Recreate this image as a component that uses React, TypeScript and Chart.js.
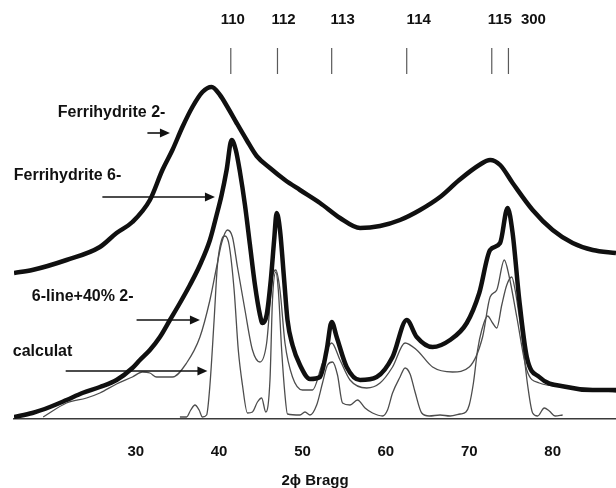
import { useEffect, useRef } from "react";
import { Chart, registerables } from "chart.js";

Chart.register(...registerables);

// ---- axis / annotation data ----
const X_MIN = 15.4;
const X_MAX = 87.6;
const Y_MAX = 419;
const X_TICKS = [30, 40, 50, 60, 70, 80];
const AXIS_TITLE = "2\u03D5 Bragg";

const PEAK_LABELS = ["110", "112", "113", "114", "115", "300"];
const PEAK_POS = [41.4, 47.0, 53.5, 62.5, 72.7, 74.7];

const SERIES_LABELS = ["Ferrihydrite 2-", "Ferrihydrite 6-", "6-line+40% 2-", "calculat"];

// ---- series (2θ, intensity a.u.) ----
const fh2Line: [number, number][] = [
  [15.4, 146], [17.6, 149], [21.7, 159], [25.7, 172], [27.7, 186], [29.6, 197],
  [31.7, 219], [33.2, 249], [34.4, 269], [35.6, 292], [36.8, 312], [38.0, 327],
  [39.1, 332], [40.1, 324], [41.0, 312], [42.1, 296], [43.3, 279], [44.5, 263],
  [46.1, 251], [47.9, 239], [49.7, 229], [52.1, 216], [54.5, 201], [56.9, 191],
  [59.3, 193], [61.7, 199], [64.1, 209], [66.5, 222], [68.8, 239], [71.2, 254],
  [72.5, 259], [73.7, 254], [75.2, 236], [77.6, 209], [80.0, 189], [82.4, 176],
  [84.8, 169], [87.6, 166],
];

const fh6Line: [number, number][] = [
  [15.4, 2], [17.6, 6], [19.7, 12], [21.7, 19], [23.6, 26], [25.7, 32], [27.7, 39],
  [29.6, 51], [30.5, 59], [31.7, 69], [32.9, 82], [34.1, 99], [35.3, 116],
  [36.5, 134], [37.7, 154], [38.9, 179], [39.7, 204], [40.3, 224], [40.9, 249],
  [41.5, 279], [42.0, 269], [42.5, 247], [43.1, 214], [43.7, 174], [44.3, 134],
  [44.9, 104], [45.2, 96], [45.7, 104], [46.2, 139], [46.6, 179], [46.9, 206],
  [47.3, 189], [47.8, 139], [48.2, 99], [48.8, 74], [49.7, 54], [50.9, 40],
  [52.1, 42], [52.9, 69], [53.5, 97], [54.1, 82], [55.3, 52], [56.9, 39],
  [58.9, 42], [60.8, 62], [62.5, 99], [63.7, 82], [65.6, 72], [67.7, 79],
  [69.7, 96], [71.2, 126], [72.5, 169], [73.7, 176], [74.6, 211], [75.2, 186],
  [76.0, 119], [76.9, 62], [78.4, 42], [81.7, 32], [84.8, 29], [87.6, 29],
];

const mixLine: [number, number][] = [
  [18.9, 2], [21.7, 16], [24.1, 21], [25.7, 26], [27.7, 35], [29.6, 42],
  [30.8, 47], [31.7, 46], [32.5, 42], [34.4, 42], [36.1, 56], [37.7, 82],
  [38.9, 119], [39.7, 152], [40.3, 176], [41.0, 189], [41.6, 182], [42.2, 152],
  [43.1, 109], [44.0, 69], [44.9, 57], [45.7, 76], [46.4, 142], [46.8, 149],
  [47.3, 129], [47.9, 76], [48.8, 42], [50.0, 29], [51.2, 29], [52.4, 56],
  [53.5, 76], [54.5, 59], [55.7, 39], [57.7, 31], [59.3, 36], [60.8, 52],
  [62.3, 76], [63.7, 69], [65.6, 52], [68.0, 47], [70.0, 52], [71.6, 82],
  [72.5, 122], [73.3, 129], [74.2, 159], [74.8, 142], [75.7, 102], [76.9, 49],
  [78.4, 36], [81.7, 32], [84.8, 29], [87.6, 27],
];

const calcLine: [number, number][] = [
  [35.3, 2], [36.1, 2], [36.6, 9], [37.1, 14], [37.6, 9], [38.0, 2], [38.5, 4],
  [38.9, 34], [39.4, 99], [39.8, 154], [40.3, 179], [40.7, 183], [41.2, 174],
  [41.8, 129], [42.3, 69], [42.8, 34], [43.4, 6], [44.0, 7], [44.6, 17],
  [45.1, 21], [45.6, 7], [46.1, 39], [46.4, 119], [46.8, 147], [47.1, 129],
  [47.5, 69], [47.9, 24], [48.2, 5], [49.7, 4], [50.3, 7], [50.9, 4], [51.7, 14],
  [52.4, 36], [53.0, 54], [53.6, 57], [54.2, 44], [54.8, 16], [55.7, 14],
  [56.6, 19], [57.5, 11], [58.4, 6], [59.6, 3], [60.2, 9], [60.8, 26],
  [61.7, 42], [62.3, 51], [62.9, 45], [63.5, 27], [64.3, 6], [65.2, 3],
  [66.5, 4], [67.7, 3], [68.9, 5], [69.6, 7], [70.0, 14], [70.5, 36],
  [71.0, 69], [71.5, 89], [72.2, 103], [72.8, 96], [73.3, 91], [73.9, 114],
  [74.5, 134], [75.1, 142], [75.5, 129], [76.0, 102], [76.5, 69], [77.0, 34],
  [77.6, 6], [78.2, 3], [79.0, 11], [79.6, 8], [80.3, 3], [81.2, 4],
];

// ---- annotation placement (2θ / intensity units) ----
const LABEL_ANCHORS: [number, number][] = [
  [20.65, 306], [15.37, 243], [17.53, 122], [15.25, 67],
];
const ARROWS: [number, number, number][] = [
  [31.4, 34.1, 286], [26.0, 39.5, 222], [30.1, 37.7, 99], [21.6, 38.6, 48],
];
const PEAK_LABEL_DX = [2, 6, 11, 12, 8, 25];
const PEAK_TICK_TOP = 371;
const PEAK_TICK_BOTTOM = 345;
const PEAK_LABEL_Y = 399;

const FONT = '"Liberation Sans", Arial, Helvetica, sans-serif';

const annotationPlugin = {
  id: "xrdAnnotations",
  afterDatasetsDraw(chart: any) {
    const { ctx } = chart;
    const xs = chart.scales.x;
    const ys = chart.scales.y;
    ctx.save();

    // peak position markers
    ctx.strokeStyle = "#5a5a5a";
    ctx.lineWidth = 1.2;
    ctx.fillStyle = "#111111";
    ctx.font = `bold 15px ${FONT}`;
    ctx.textAlign = "center";
    ctx.textBaseline = "middle";
    PEAK_POS.forEach((p, i) => {
      const px = xs.getPixelForValue(p);
      ctx.beginPath();
      ctx.moveTo(px, ys.getPixelForValue(PEAK_TICK_TOP));
      ctx.lineTo(px, ys.getPixelForValue(PEAK_TICK_BOTTOM));
      ctx.stroke();
      ctx.fillText(PEAK_LABELS[i], px + PEAK_LABEL_DX[i], ys.getPixelForValue(PEAK_LABEL_Y));
    });

    // series labels
    ctx.textAlign = "left";
    ctx.font = `bold 16px ${FONT}`;
    SERIES_LABELS.forEach((t, i) => {
      const [x, y] = LABEL_ANCHORS[i];
      ctx.fillText(t, xs.getPixelForValue(x), ys.getPixelForValue(y));
    });

    // arrows
    ctx.strokeStyle = "#111111";
    ctx.lineWidth = 1.6;
    ARROWS.forEach(([x1, x2, y]) => {
      const a = xs.getPixelForValue(x1);
      const b = xs.getPixelForValue(x2);
      const py = ys.getPixelForValue(y);
      ctx.beginPath();
      ctx.moveTo(a, py);
      ctx.lineTo(b - 6, py);
      ctx.stroke();
      ctx.beginPath();
      ctx.moveTo(b, py);
      ctx.lineTo(b - 10, py - 4.5);
      ctx.lineTo(b - 10, py + 4.5);
      ctx.closePath();
      ctx.fill();
    });

    ctx.restore();
  },
};

const toPts = (arr: [number, number][]) => arr.map(([x, y]) => ({ x, y }));

export default function App() {
  const ref = useRef<HTMLCanvasElement | null>(null);

  useEffect(() => {
    if (!ref.current) return;
    const thick = { borderColor: "#101010", borderWidth: 4.5 };
    const thin = { borderColor: "#4d4d4d", borderWidth: 1.3 };
    const chart = new Chart(ref.current, {
      type: "line",
      data: {
        datasets: [
          { label: SERIES_LABELS[0], data: toPts(fh2Line), ...thick },
          { label: SERIES_LABELS[1], data: toPts(fh6Line), ...thick },
          { label: SERIES_LABELS[2], data: toPts(mixLine), ...thin },
          { label: SERIES_LABELS[3], data: toPts(calcLine), ...thin },
        ].map((d) => ({
          ...d,
          pointRadius: 0,
          fill: false,
          cubicInterpolationMode: "monotone" as const,
        })),
      },
      options: {
        responsive: false,
        animation: false,
        devicePixelRatio: 1,
        layout: { padding: { left: 14, right: 0, top: 0, bottom: 0 } },
        plugins: { legend: { display: false }, tooltip: { enabled: false } },
        scales: {
          x: {
            type: "linear",
            min: X_MIN,
            max: X_MAX,
            afterBuildTicks: (s: any) => {
              s.ticks = X_TICKS.map((v) => ({ value: v }));
            },
            afterFit: (s: any) => {
              s.height = 69;
            },
            grid: { display: false, drawTicks: false },
            border: { display: true, color: "#3a3a3a", width: 1.5 },
            ticks: {
              padding: 24,
              color: "#111111",
              font: { family: FONT, size: 15, weight: "bold", lineHeight: 1.2 },
              maxRotation: 0,
              callback: (v: any) => String(v),
            },
            title: {
              display: true,
              text: AXIS_TITLE,
              color: "#111111",
              padding: 0,
              font: { family: FONT, size: 15, weight: "bold", lineHeight: 1 },
            },
          },
          y: { type: "linear", display: false, min: 0, max: Y_MAX },
        },
      },
      plugins: [annotationPlugin],
    });
    return () => chart.destroy();
  }, []);

  return (
    <div style={{ position: "absolute", left: 0, top: 0, width: 616, height: 488, background: "#fff" }}>
      <canvas ref={ref} width={616} height={488} style={{ display: "block" }} />
    </div>
  );
}
